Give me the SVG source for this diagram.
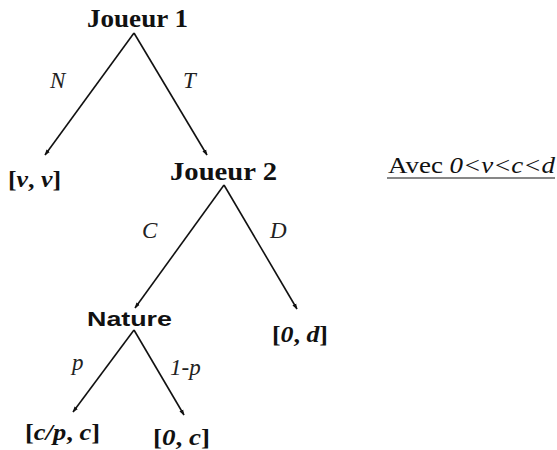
<svg xmlns="http://www.w3.org/2000/svg" width="557" height="450" viewBox="0 0 557 450">
<defs>
<style>
.edge{stroke:#111;stroke-width:1.6;fill:none;marker-end:url(#ah)}
</style>
<marker id="ah" viewBox="0 0 10 10" refX="9" refY="5" markerWidth="6" markerHeight="6" orient="auto" markerUnits="userSpaceOnUse">
<path d="M0,1.5 L10,5 L0,8.5 z" fill="#111"/>
</marker>
</defs>
<rect width="557" height="450" fill="#fff"/>
<g id="connectors">
<line class="edge" x1="134" y1="33" x2="45" y2="155"/>
<line class="edge" x1="134" y1="33" x2="207" y2="155"/>
<line class="edge" x1="224" y1="185" x2="135" y2="308"/>
<line class="edge" x1="224" y1="185" x2="297" y2="309"/>
<line class="edge" x1="134" y1="330" x2="73" y2="412"/>
<line class="edge" x1="134" y1="330" x2="184" y2="415"/>
<text x="50" y="88" font-family="'Liberation Serif', serif" font-style="italic" font-size="23" fill="#222">N</text>
<text x="183" y="88" font-family="'Liberation Serif', serif" font-style="italic" font-size="23" fill="#222">T</text>
<text x="142" y="238" font-family="'Liberation Serif', serif" font-style="italic" font-size="23" fill="#222">C</text>
<text x="270" y="238" font-family="'Liberation Serif', serif" font-style="italic" font-size="23" fill="#222">D</text>
<text x="72" y="370" font-family="'Liberation Serif', serif" font-style="italic" font-size="23" fill="#222">p</text>
<text x="170" y="375" font-family="'Liberation Serif', serif" font-style="italic" font-size="23" fill="#222">1-p</text>
</g>
<g id="joueur1"><text x="87" y="27" font-family="'Liberation Serif', serif" font-weight="bold" font-size="26" fill="#111" textLength="101" lengthAdjust="spacingAndGlyphs">Joueur 1</text></g>
<g id="joueur2"><text x="170" y="180" font-family="'Liberation Serif', serif" font-weight="bold" font-size="26" fill="#111" textLength="107" lengthAdjust="spacingAndGlyphs">Joueur 2</text></g>
<g id="nature"><text x="87" y="326" font-family="'Liberation Sans', sans-serif" font-weight="bold" font-size="21" fill="#111" textLength="85" lengthAdjust="spacingAndGlyphs">Nature</text></g>
<g id="payoff-vv"><text x="8" y="187" font-family="'Liberation Serif', serif" font-weight="bold" font-size="24" fill="#111" textLength="53" lengthAdjust="spacingAndGlyphs">[<tspan font-style="italic">v</tspan>, <tspan font-style="italic">v</tspan>]</text></g>
<g id="payoff-0d"><text x="272" y="342" font-family="'Liberation Serif', serif" font-weight="bold" font-size="24" fill="#111" textLength="56" lengthAdjust="spacingAndGlyphs">[<tspan font-style="italic">0</tspan>, <tspan font-style="italic">d</tspan>]</text></g>
<g id="payoff-cpc"><text x="25" y="440" font-family="'Liberation Serif', serif" font-weight="bold" font-size="24" fill="#111" textLength="75" lengthAdjust="spacingAndGlyphs">[<tspan font-style="italic">c/p</tspan>, <tspan font-style="italic">c</tspan>]</text></g>
<g id="payoff-0c"><text x="153" y="445" font-family="'Liberation Serif', serif" font-weight="bold" font-size="24" fill="#111" textLength="57" lengthAdjust="spacingAndGlyphs">[<tspan font-style="italic">0</tspan>, <tspan font-style="italic">c</tspan>]</text></g>
<g id="note">
<text x="388" y="173" font-family="'Liberation Serif', serif" font-size="24" fill="#111" textLength="167" lengthAdjust="spacingAndGlyphs">Avec <tspan font-style="italic">0&lt;v&lt;c&lt;d</tspan></text>
<line x1="387" y1="178" x2="555" y2="178" stroke="#111" stroke-width="1.2"/>
</g>
</svg>
